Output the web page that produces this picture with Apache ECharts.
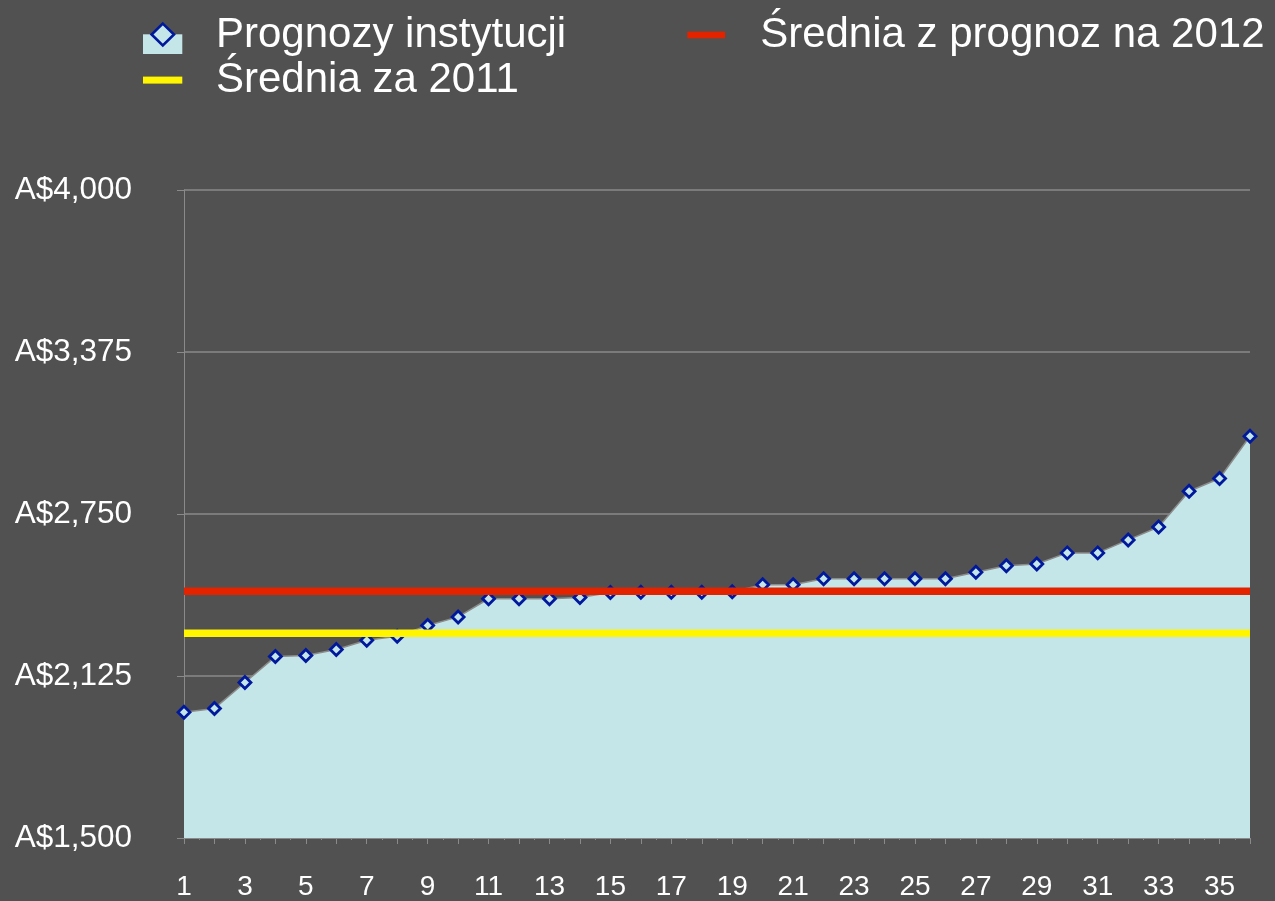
<!DOCTYPE html>
<html>
<head>
<meta charset="utf-8">
<script src="https://cdn.jsdelivr.net/npm/echarts@6/dist/echarts.min.js"></script>
<style>
html,body{margin:0;padding:0;background:#515151;}
#chart{width:1275px;height:901px;}
</style>
</head>
<body>
<div id="chart"></div>
<script>
// ---- data ----
const categories = [1,2,3,4,5,6,7,8,9,10,11,12,13,14,15,16,17,18,19,20,21,22,23,24,25,26,27,28,29,30,31,32,33,34,35,36];
const forecasts = [1985,2000,2100,2200,2204,2227,2263,2278,2320,2353,2423,2423,2423,2428,2447,2448,2448,2448,2450,2477,2477,2500,2500,2500,2500,2500,2525,2550,2557,2600,2600,2650,2700,2838,2887,3050];
const avg2012 = 2452;
const avg2011 = 2290;
const yTicks = [1500, 2125, 2750, 3375, 4000];
const seriesNames = ['Prognozy instytucji', 'Średnia z prognoz na 2012', 'Średnia za 2011'];

// axis offset so that the axis minimum is a multiple of the tick interval
const yBase = yTicks[0];
const yStep = yTicks[1] - yTicks[0];

const FONT = 'Liberation Sans, Arial, sans-serif';
const svgUrl = s => 'image://data:image/svg+xml;charset=utf-8,' + encodeURIComponent(s);
const iconArea = svgUrl('<svg xmlns="http://www.w3.org/2000/svg" width="68" height="38" viewBox="0 0 68 38" preserveAspectRatio="none">' +
  '<rect x="0" y="18.3" width="39.3" height="19.7" fill="#c4e6e8"/>' +
  '<polygon points="19.8,7.6 31,18.5 19.8,29.4 8.6,18.5" fill="#c4e6e8" stroke="#00189c" stroke-width="2.6"/></svg>');
const iconRed = svgUrl('<svg xmlns="http://www.w3.org/2000/svg" width="68" height="38" viewBox="0 0 68 38" preserveAspectRatio="none">' +
  '<rect x="0" y="15.6" width="38" height="6.7" fill="#e32200"/></svg>');
const iconYellow = svgUrl('<svg xmlns="http://www.w3.org/2000/svg" width="68" height="38" viewBox="0 0 68 38" preserveAspectRatio="none">' +
  '<rect x="0" y="15.6" width="39.3" height="7" fill="#fff500"/></svg>');

const fmt = v => 'A$' + (v + yBase).toLocaleString('en-US');

const chart = echarts.init(document.getElementById('chart'), null, {renderer: 'canvas'});
const legendText = {color: '#ffffff', fontSize: 42, fontFamily: FONT};
chart.setOption({
  backgroundColor: '#515151',
  animation: false,
  legend: [
    {
      left: 143, top: 14, padding: 0, itemGap: 121, itemWidth: 68, itemHeight: 38,
      selectedMode: false, orient: 'horizontal',
      textStyle: legendText,
      data: [{name: seriesNames[0], icon: iconArea}, {name: seriesNames[1], icon: iconRed}]
    },
    {
      left: 143, top: 59, padding: 0, itemWidth: 68, itemHeight: 38,
      selectedMode: false,
      textStyle: legendText,
      data: [{name: seriesNames[2], icon: iconYellow}]
    }
  ],
  grid: {left: 184, right: 25, top: 190, bottom: 57, containLabel: false},
  xAxis: {
    type: 'value',
    min: categories[0],
    max: categories[categories.length - 1],
    interval: 1,
    axisLine: {show: true, lineStyle: {color: '#8a8a8a', width: 1}},
    axisTick: {show: true, length: 6, lineStyle: {color: '#8a8a8a', width: 1}},
    minorTick: {show: true, splitNumber: 2, length: 2, lineStyle: {color: '#8a8a8a', width: 1}},
    splitLine: {show: false},
    axisLabel: {
      color: '#ffffff', fontSize: 28, fontFamily: FONT, margin: 35,
      formatter: v => (categories.indexOf(v) % 2 === 0 ? String(v) : '')
    }
  },
  yAxis: {
    type: 'value',
    min: 0,
    max: yTicks[yTicks.length - 1] - yBase,
    interval: yStep,
    axisLine: {show: true, lineStyle: {color: '#8a8a8a', width: 1}},
    axisTick: {show: true, length: 7, lineStyle: {color: '#8a8a8a', width: 1}},
    splitLine: {show: true, lineStyle: {color: '#8a8a8a', width: 1.6}},
    axisLabel: {color: '#ffffff', fontSize: 31.5, fontFamily: FONT, margin: 52, formatter: fmt}
  },
  series: [
    {
      name: seriesNames[0],
      type: 'line',
      z: 2,
      data: categories.map((c, i) => [c, forecasts[i] - yBase]),
      symbol: 'diamond',
      symbolSize: 12,
      lineStyle: {color: '#8c8c8c', width: 1.5},
      itemStyle: {color: '#c4e6e8', borderColor: '#00189c', borderWidth: 2.8},
      areaStyle: {color: '#c4e6e8', opacity: 1}
    },
    {
      name: seriesNames[1],
      type: 'line',
      z: 5,
      symbol: 'none',
      data: [[categories[0], avg2012 - yBase], [categories[categories.length - 1], avg2012 - yBase]],
      lineStyle: {color: '#e32200', width: 7.5},
      itemStyle: {color: '#e32200'}
    },
    {
      name: seriesNames[2],
      type: 'line',
      z: 5,
      symbol: 'none',
      data: [[categories[0], avg2011 - yBase], [categories[categories.length - 1], avg2011 - yBase]],
      lineStyle: {color: '#fff500', width: 7.5},
      itemStyle: {color: '#fff500'}
    }
  ]
});
</script>
</body>
</html>
